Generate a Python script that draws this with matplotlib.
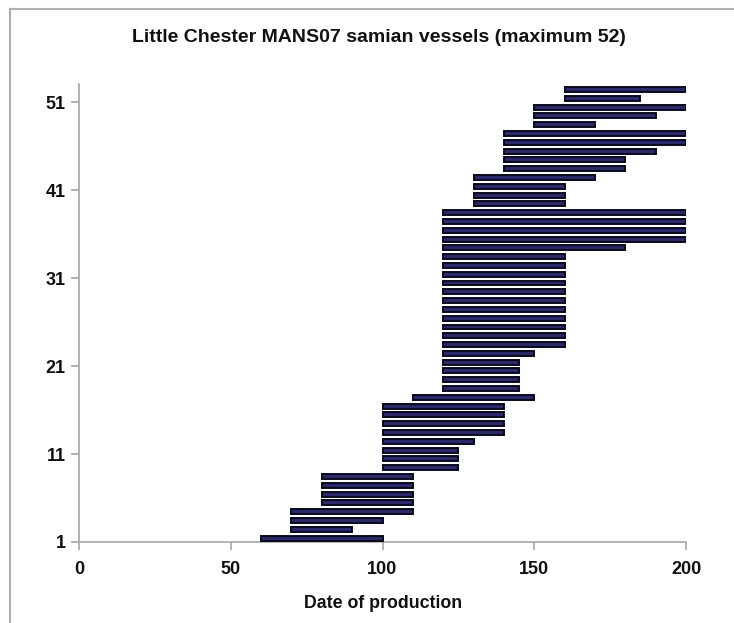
import matplotlib
matplotlib.use("Agg")
import matplotlib.pyplot as plt
import numpy as np
from matplotlib.lines import Line2D

plt.rcParams['font.family'] = ['Liberation Sans', 'DejaVu Sans']

# Vessel production date ranges (vessel 1 .. 52)
start_dates = [60, 70, 70, 70, 80, 80, 80, 80,
               100, 100, 100, 100, 100, 100, 100, 100,
               110, 120, 120, 120, 120, 120,
               120, 120, 120, 120, 120, 120, 120, 120, 120, 120, 120,
               120, 120, 120, 120, 120,
               130, 130, 130, 130,
               140, 140, 140, 140, 140,
               150, 150, 150, 160, 160]
end_dates = [100, 90, 100, 110, 110, 110, 110, 110,
             125, 125, 125, 130, 140, 140, 140, 140,
             150, 145, 145, 145, 145, 150,
             160, 160, 160, 160, 160, 160, 160, 160, 160, 160, 160,
             180, 200, 200, 200, 200,
             160, 160, 160, 170,
             180, 180, 190, 200, 200,
             170, 190, 200, 185, 200]
y_tick_labels = ["1", "11", "21", "31", "41", "51"]
x_ticks = [0, 50, 100, 150, 200]

title = "Little Chester MANS07 samian vessels (maximum 52)"
xlabel = "Date of production"

fig = plt.figure(figsize=(7.34, 6.23), dpi=100)
ax = fig.add_axes([79/734, 1 - 542/623, (686 - 79)/734, (542 - 84)/623])

vessel = np.arange(1, len(start_dates) + 1)
widths = np.array(end_dates) - np.array(start_dates)
ax.barh(vessel, widths, left=start_dates, height=0.56,
        color='#2a2866', edgecolor='#0a0a1e', linewidth=1.4, zorder=3)

offset = 0.45
ax.set_xlim(0, 200)
ax.set_ylim(1 - offset, 53.08 - offset)
ax.set_xticks(x_ticks)
ax.set_xticklabels([str(v) for v in x_ticks])
ax.set_yticks([int(t) - offset for t in y_tick_labels])
ax.set_yticklabels(y_tick_labels)

for s in ['top', 'right']:
    ax.spines[s].set_visible(False)
for s in ['left', 'bottom']:
    ax.spines[s].set_color('#a6a6a6')
    ax.spines[s].set_linewidth(1.2)

ax.tick_params(axis='both', direction='out', color='#a6a6a6', width=1.2,
               length=5.5, labelsize=13, labelcolor='#111111')
ax.tick_params(axis='x', pad=8)
ax.tick_params(axis='y', pad=4)
for lbl in ax.get_xticklabels() + ax.get_yticklabels():
    lbl.set_fontweight('bold')

fig.text(379/734, 1 - 38/623, title, ha='center', va='center',
         fontsize=14, fontweight='bold', color='#111111')
fig.text(383/734, 1 - 603/623, xlabel, ha='center', va='center',
         fontsize=12.8, fontweight='bold', color='#111111')

# outer frame (left and top edges)
fig.add_artist(Line2D([10/734, 10/734], [0, 1 - 9/623], transform=fig.transFigure,
                      color='#b0b0b0', linewidth=1.5))
fig.add_artist(Line2D([10/734, 1], [1 - 9/623, 1 - 9/623], transform=fig.transFigure,
                      color='#b0b0b0', linewidth=1.5))

fig.savefig("out.png", dpi=100)
